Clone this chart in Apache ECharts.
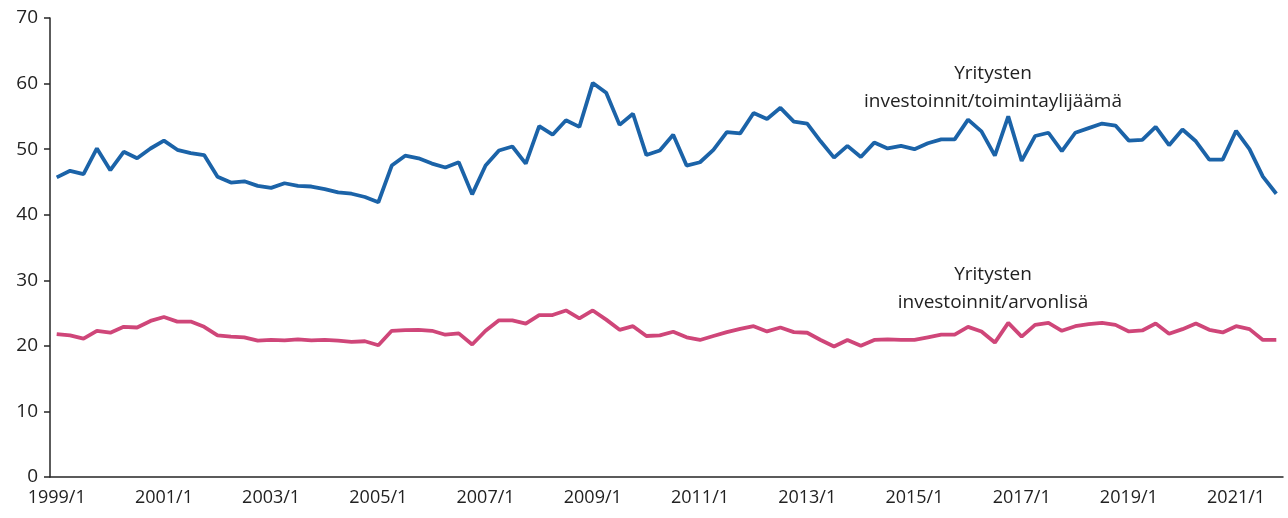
<!DOCTYPE html>
<html>
<head>
<meta charset="utf-8">
<script src="https://cdn.jsdelivr.net/npm/echarts@6/dist/echarts.min.js"></script>
<style>
  html, body { margin: 0; padding: 0; background: #fff; }
  #chart { width: 1288px; height: 518px; }
</style>
</head>
<body>
<div id="chart"></div>
<script>
// quarters 1999/1 .. 2021/4
var years = [];
for (var y = 1999; y <= 2021; y++) years.push(y);
var quarters = [];
years.forEach(function (yr) {
  for (var q = 1; q <= 4; q++) quarters.push(yr + '/' + q);
});

// Yritysten investoinnit/toimintaylijäämä
var toimintaylijaama = [
  45.7, 46.7, 46.2, 50.1, 46.8, 49.6, 48.6, 50.1,
  51.3, 49.9, 49.4, 49.1, 45.8, 44.9, 45.1, 44.4,
  44.1, 44.8, 44.4, 44.3, 43.9, 43.4, 43.2, 42.7,
  41.9, 47.5, 49.0, 48.6, 47.8, 47.2, 48.0, 43.1,
  47.5, 49.8, 50.4, 47.8, 53.5, 52.2, 54.4, 53.4,
  60.1, 58.6, 53.7, 55.4, 49.1, 49.8, 52.2, 47.5,
  48.0, 49.9, 52.6, 52.4, 55.5, 54.6, 56.3, 54.2,
  53.9, 51.2, 48.7, 50.5, 48.8, 51.0, 50.1, 50.5,
  50.0, 50.9, 51.5, 51.5, 54.5, 52.7, 49.0, 55.0,
  48.2, 52.0, 52.5, 49.7, 52.5, 53.2, 53.9, 53.6,
  51.3, 51.4, 53.4, 50.6, 53.0, 51.2, 48.4, 48.4,
  52.8, 50.0, 45.8, 43.2
];

// Yritysten investoinnit/arvonlisä
var arvonlisa = [
  21.8, 21.6, 21.1, 22.3, 22.0, 22.9, 22.8, 23.8,
  24.4, 23.7, 23.7, 22.9, 21.6, 21.4, 21.3, 20.8,
  20.9, 20.85, 21.0, 20.85, 20.9, 20.8, 20.6, 20.7,
  20.1, 22.3, 22.4, 22.45, 22.3, 21.7, 21.9, 20.2,
  22.3, 23.9, 23.9, 23.4, 24.7, 24.7, 25.4, 24.2,
  25.4, 24.0, 22.45, 23.0, 21.5, 21.6, 22.15, 21.3,
  20.9, 21.5, 22.1, 22.6, 23.0, 22.2, 22.8, 22.1,
  22.0, 20.9, 19.9, 20.9, 20.0, 20.9, 21.0, 20.9,
  20.9, 21.3, 21.7, 21.7, 22.9, 22.2, 20.5, 23.5,
  21.4, 23.2, 23.5, 22.3, 23.0, 23.3, 23.5, 23.2,
  22.2, 22.35, 23.4, 21.85, 22.55, 23.4, 22.45, 22.05,
  23.0, 22.55, 20.9, 20.9
];

var FONT = '"Open Sans", "Noto Sans", sans-serif';
var TXT = '#222';

var chart = echarts.init(document.getElementById('chart'));
chart.setOption({
  animation: false,
  grid: { left: 50, right: 5, top: 18, bottom: 41 },
  xAxis: {
    type: 'category',
    data: quarters,
    boundaryGap: true,
    axisLine: { lineStyle: { color: '#262626', width: 1.5 } },
    axisTick: { interval: 3, length: 6, lineStyle: { color: '#262626', width: 1.5 } },
    axisLabel: { interval: 7, color: TXT, fontFamily: FONT, fontSize: 18, margin: 12 }
  },
  yAxis: {
    type: 'value',
    min: 0, max: 70, interval: 10,
    splitLine: { show: false },
    axisLine: { show: true, lineStyle: { color: '#262626', width: 1.5 } },
    axisTick: { show: true, length: 6, lineStyle: { color: '#262626', width: 1.5 } },
    axisLabel: { color: TXT, fontFamily: FONT, fontSize: 19, margin: 12 }
  },
  series: [
    {
      name: 'Yritysten investoinnit/toimintaylijäämä',
      type: 'line',
      data: toimintaylijaama,
      symbol: 'none',
      lineStyle: { color: '#1b63a8', width: 3.8 }
    },
    {
      name: 'Yritysten investoinnit/arvonlisä',
      type: 'line',
      data: arvonlisa,
      symbol: 'none',
      lineStyle: { color: '#cf4679', width: 3.8 }
    }
  ],
  graphic: [
    {
      type: 'text', x: 993, y: 60,
      style: {
        text: 'Yritysten\ninvestoinnit/toimintaylijäämä',
        fill: TXT, font: '19px ' + FONT, align: 'center', lineHeight: 28
      }
    },
    {
      type: 'text', x: 993, y: 261,
      style: {
        text: 'Yritysten\ninvestoinnit/arvonlisä',
        fill: TXT, font: '19px ' + FONT, align: 'center', lineHeight: 28
      }
    }
  ]
});
</script>
</body>
</html>
